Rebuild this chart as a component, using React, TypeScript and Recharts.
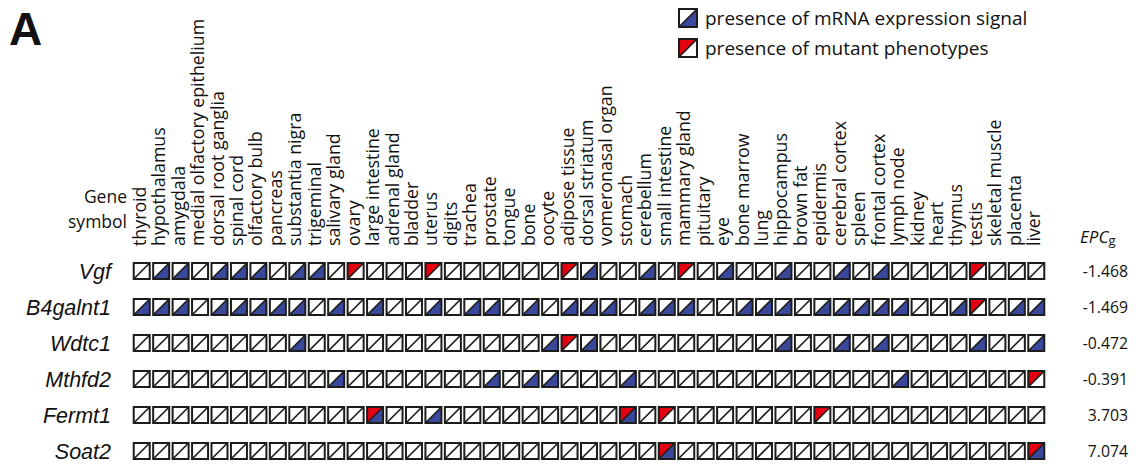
import { Customized, Legend, Scatter, ScatterChart, XAxis, YAxis } from 'recharts';

// tissues, in column order
const tissues = [
  'thyroid', 'hypothalamus', 'amygdala', 'medial olfactory epithelium', 'dorsal root ganglia',
  'spinal cord', 'olfactory bulb', 'pancreas', 'substantia nigra', 'trigeminal', 'salivary gland',
  'ovary', 'large intestine', 'adrenal gland', 'bladder', 'uterus', 'digits', 'trachea', 'prostate',
  'tongue', 'bone', 'oocyte', 'adipose tissue', 'dorsal striatum', 'vomeronasal organ', 'stomach',
  'cerebellum', 'small intestine', 'mammary gland', 'pituitary', 'eye', 'bone marrow', 'lung',
  'hippocampus', 'brown fat', 'epidermis', 'cerebral cortex', 'spleen', 'frontal cortex',
  'lymph node', 'kidney', 'heart', 'thymus', 'testis', 'skeletal muscle', 'placenta', 'liver',
];

const genes = ['Vgf', 'B4galnt1', 'Wdtc1', 'Mthfd2', 'Fermt1', 'Soat2'];
const epcValues = [-1.468, -1.469, -0.472, -0.391, 3.703, 7.074];

// tissues with mRNA expression signal (blue half)
const vgfMrna = ['hypothalamus', 'amygdala', 'dorsal root ganglia', 'spinal cord', 'olfactory bulb',
  'substantia nigra', 'trigeminal', 'dorsal striatum', 'cerebellum', 'eye', 'hippocampus',
  'cerebral cortex', 'frontal cortex'];
const b4galnt1Mrna = ['thyroid', 'hypothalamus', 'amygdala', 'dorsal root ganglia', 'spinal cord',
  'olfactory bulb', 'pancreas', 'substantia nigra', 'salivary gland', 'large intestine', 'uterus',
  'trachea', 'prostate', 'bone', 'adipose tissue', 'dorsal striatum', 'vomeronasal organ',
  'cerebellum', 'small intestine', 'mammary gland', 'bone marrow', 'lung', 'hippocampus',
  'epidermis', 'cerebral cortex', 'spleen', 'frontal cortex', 'lymph node', 'thymus', 'placenta',
  'liver'];
const wdtc1Mrna = ['substantia nigra', 'oocyte', 'dorsal striatum', 'hippocampus', 'cerebral cortex',
  'frontal cortex', 'testis', 'liver'];
const mthfd2Mrna = ['salivary gland', 'prostate', 'bone', 'oocyte', 'stomach', 'lymph node'];
const fermt1Mrna = ['large intestine', 'uterus', 'stomach'];
const soat2Mrna = ['small intestine', 'liver'];

// tissues with mutant phenotypes (red half)
const vgfPhenotype = ['ovary', 'uterus', 'adipose tissue', 'mammary gland', 'testis'];
const b4galnt1Phenotype = ['testis'];
const wdtc1Phenotype = ['adipose tissue'];
const mthfd2Phenotype = ['liver'];
const fermt1Phenotype = ['large intestine', 'stomach', 'small intestine', 'epidermis'];
const soat2Phenotype = ['small intestine', 'liver'];

const legendItems = [
  { kind: 'mrna', label: 'presence of mRNA expression signal' },
  { kind: 'pheno', label: 'presence of mutant phenotypes' },
];

const mrnaByGene = [vgfMrna, b4galnt1Mrna, wdtc1Mrna, mthfd2Mrna, fermt1Mrna, soat2Mrna];
const phenoByGene = [vgfPhenotype, b4galnt1Phenotype, wdtc1Phenotype, mthfd2Phenotype, fermt1Phenotype, soat2Phenotype];

const BLUE = '#3a489c';
const RED = '#e4000f';
const INK = '#1c1c1c';
const FONT = '"Open Sans", "Noto Sans", sans-serif';
const ARIAL = '"Liberation Sans", Arial, sans-serif';

const cells = genes.flatMap((gene, gi) =>
  tissues.map((tissue, ti) => ({
    x: ti,
    y: gi,
    gene,
    tissue,
    mrna: mrnaByGene[gi].includes(tissue),
    pheno: phenoByGene[gi].includes(tissue),
  }))
);

const epcData = genes.map((gene, gi) => ({ x: 0, y: gi, epc: epcValues[gi] }));

function CellMark({ x0, y0, size, mrna, pheno }: { x0: number; y0: number; size: number; mrna: boolean; pheno: boolean }) {
  const x1 = x0 + size;
  const y1 = y0 + size;
  return (
    <g>
      <rect x={x0} y={y0} width={size} height={size} fill="#fff" />
      {pheno && <polygon points={`${x0},${y0} ${x1},${y0} ${x0},${y1}`} fill={RED} />}
      {mrna && <polygon points={`${x1},${y0} ${x1},${y1} ${x0},${y1}`} fill={BLUE} />}
      <line x1={x0} y1={y1} x2={x1} y2={y0} stroke={INK} strokeWidth={1.7} />
      <rect x={x0} y={y0} width={size} height={size} fill="none" stroke={INK} strokeWidth={2} />
    </g>
  );
}

const CellShape = (props: any) => {
  const { cx, cy, payload } = props;
  return <CellMark x0={cx - 8} y0={cy - 8} size={16} mrna={payload.mrna} pheno={payload.pheno} />;
};

const TissueTick = ({ x, y, payload }: any) => (
  <g transform={`translate(${x + 4},${y}) rotate(-90)`}>
    <text x={0} y={0} textAnchor="start" fontSize={17.8} fill="#111" fontFamily={FONT}>
      {tissues[payload.value]}
    </text>
  </g>
);

const GeneTick = ({ x, y, payload }: any) => (
  <text x={x} y={y} dy={7.5} textAnchor="end" fontSize={21.5} fontStyle="italic" fill="#111" fontFamily={ARIAL}>
    {genes[payload.value]}
  </text>
);

const EpcTick = ({ x, y, payload }: any) => (
  <text x={x} y={y} dy={6} textAnchor="end" fontSize={15.8} fill="#111" fontFamily={FONT}>
    {epcValues[payload.value].toFixed(3)}
  </text>
);

const LegendContent = () => (
  <div style={{ fontFamily: FONT, fontSize: 19, color: '#111' }}>
    {legendItems.map(item => (
      <div key={item.kind} style={{ display: 'flex', alignItems: 'center', height: 30 }}>
        <svg width={21} height={20} style={{ marginRight: 7 }}>
          <CellMark x0={2} y0={1} size={18} mrna={item.kind === 'mrna'} pheno={item.kind === 'pheno'} />
        </svg>
        <span>{item.label}</span>
      </div>
    ))}
  </div>
);

const Annotations = () => (
  <g fill="#111" fontFamily={FONT}>
    <text x={9} y={45} fontSize={46} fontWeight={700} fontFamily={ARIAL}>A</text>
    <text x={127} y={203} textAnchor="end" fontSize={17.5}>Gene</text>
    <text x={127} y={228} textAnchor="end" fontSize={17.5}>symbol</text>
    <text x={1080} y={243} fontSize={17} fontStyle="italic">
      EPC<tspan fontStyle="normal" fontSize={13} dy={2}>g</tspan>
    </text>
  </g>
);

export default function App() {
  const rowTicks = genes.map((_, i) => i);
  const colTicks = tissues.map((_, i) => i);

  return (
    <div style={{ position: 'absolute', left: 0, top: 0, width: 1136, height: 464, overflow: 'hidden', background: '#fff' }}>
      <ScatterChart width={1136} height={469} margin={{ top: 0, right: 0, bottom: 0, left: 0 }}>
        <XAxis
          type="number"
          dataKey="x"
          orientation="top"
          domain={[-0.5, 46.5]}
          ticks={colTicks}
          interval={0}
          height={253}
          axisLine={false}
          tickLine={false}
          tickSize={0}
          tickMargin={7}
          tick={<TissueTick />}
        />
        <YAxis
          type="number"
          dataKey="y"
          domain={[-0.5, 5.5]}
          reversed
          ticks={rowTicks}
          interval={0}
          width={132}
          axisLine={false}
          tickLine={false}
          tickSize={0}
          tickMargin={21}
          tick={<GeneTick />}
        />
        <YAxis
          yAxisId="epc"
          type="number"
          dataKey="y"
          orientation="right"
          domain={[-0.5, 5.5]}
          reversed
          ticks={rowTicks}
          interval={0}
          width={90}
          axisLine={false}
          tickLine={false}
          tickSize={0}
          tickMargin={82}
          tick={<EpcTick />}
        />
        <Scatter data={cells} shape={<CellShape />} isAnimationActive={false} legendType="none" />
        <Scatter data={epcData} yAxisId="epc" shape={() => <g />} isAnimationActive={false} legendType="none" />
        <Legend
          layout="vertical"
          align="center"
          verticalAlign="middle"
          content={<LegendContent />}
          wrapperStyle={{ left: 677, top: 3 }}
        />
        <Customized component={<Annotations />} />
      </ScatterChart>
    </div>
  );
}
